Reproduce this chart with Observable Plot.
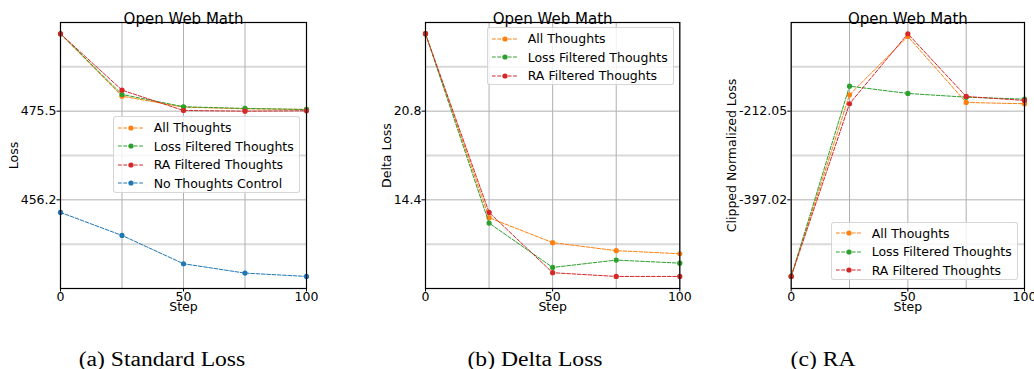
<!DOCTYPE html>
<html>
<head>
<meta charset="utf-8">
<script src="https://cdn.jsdelivr.net/npm/d3@7"></script>
<script src="https://cdn.jsdelivr.net/npm/@observablehq/plot@0.6"></script>
<style>
  html, body { margin: 0; padding: 0; background: #fff; }
  #root { position: relative; width: 1034px; height: 369px; overflow: hidden; font-family: "DejaVu Sans", sans-serif; }
  .panel { position: absolute; top: 0; }
  .panel svg { overflow: visible; }
  .legend { position: absolute; box-sizing: border-box; border: 1px solid rgba(204,204,204,0.8); border-radius: 3px; background: rgba(255,255,255,0.8); font-family: "DejaVu Sans", sans-serif; font-size: 12.5px; color: #000; }
  .legend .row { position: absolute; left: 0; height: 18px; display: flex; align-items: center; white-space: nowrap; }
  .legend .row svg { margin-left: 4px; margin-right: 10px; overflow: visible; }
  .caption { position: absolute; font-family: "Liberation Serif", "Times New Roman", serif; font-size: 20px; line-height: 20px; transform: translateX(-50%) scaleX(1.18); white-space: nowrap; }
</style>
</head>
<body>
<div id="root"></div>
<script>
// ---------- data ----------
const steps = [0, 25, 50, 75, 100];
const seriesNames = ["All Thoughts", "Loss Filtered Thoughts", "RA Filtered Thoughts", "No Thoughts Control"];
const seriesColors = ["#ff7f0e", "#2ca02c", "#d62728", "#1f77b4"];

// (a) Standard Loss
const lossAll   = [492.34, 478.76, 476.37, 476.02, 475.87];
const lossLossF = [492.34, 479.13, 476.46, 476.09, 475.87];
const lossRA    = [492.34, 480.07, 475.65, 475.50, 475.59];
const lossNone  = [453.46, 448.45, 442.29, 440.25, 439.53];
const lossTicks = [456.2, 475.5];
const lossMinorGrid = [446.55, 465.85, 485.15];
const lossDomain = [436.9, 494.8];

// (b) Delta Loss
const deltaAll   = [26.39, 13.11, 11.31, 10.73, 10.51];
const deltaLossF = [26.39, 12.72, 9.52, 10.05, 9.83];
const deltaRA    = [26.39, 13.49, 9.14, 8.87, 8.87];
const deltaTicks = [14.4, 20.8];
const deltaMinorGrid = [11.2, 17.6, 24.0];
const deltaDomain = [8.0, 27.2];

// (c) RA
const raAll   = [-556.8, -177.9, -56.3, -193.9, -196.6];
const raLossF = [-556.8, -159.9, -175.1, -182.9, -187.0];
const raRA    = [-556.8, -196.6, -50.6, -181.4, -189.7];
const raTicks = [-397.02, -212.05];
const raMinorGrid = [-489.505, -304.535, -119.565];
const raDomain = [-581.99, -27.08];

const xTicks = [0, 50, 100];
const xGrid = [0, 25, 50, 75, 100];

const titles = ["Open Web Math", "Open Web Math", "Open Web Math"];
const yLabels = ["Loss", "Delta Loss", "Clipped Normalized Loss"];
const captions = ["(a) Standard Loss", "(b) Delta Loss", "(c) RA"];

// ---------- helpers ----------
function rows(values, name) {
  return steps.map((s, i) => ({step: s, value: values[i], series: name}));
}

const root = document.getElementById("root");

function panel({left, width, marginLeft, marginRight, domain, ticks, minor, series, title, ylabel, ylabelDx, tickFmt}) {
  const marks = [
    Plot.gridY(minor, {stroke: "#d9d9d9", strokeWidth: 2, strokeOpacity: 1}),
    Plot.gridY(ticks, {stroke: "#b0b0b0", strokeWidth: 1, strokeOpacity: 1}),
    Plot.gridX(xGrid, {stroke: "#b0b0b0", strokeWidth: 1, strokeOpacity: 1}),
  ];
  for (const s of series) {
    const data = rows(s.values, s.name);
    marks.push(Plot.line(data, {x: "step", y: "value", stroke: s.color, strokeWidth: 1, strokeDasharray: "3.7,1.6"}));
    marks.push(Plot.dot(data, {x: "step", y: "value", fill: s.color, r: 2.6}));
  }
  marks.push(
    Plot.frame({stroke: "#000", strokeWidth: 1.2}),
    Plot.axisY(ticks, {tickSize: 3.5, tickPadding: 0.5, fontSize: 12.5, label: null, tickFormat: tickFmt, stroke: "#000"}),
    Plot.axisX(xTicks, {tickSize: 3.5, tickPadding: 0, fontSize: 12.5, label: null, tickFormat: d => String(d)}),
    Plot.text([title], {frameAnchor: "top", dy: -9, fontSize: 15, fill: "#000"}),
    Plot.text(["Step"], {frameAnchor: "bottom", dy: 22.5, fontSize: 12.5, fill: "#000"}),
    Plot.text([ylabel], {frameAnchor: "left", dx: ylabelDx, rotate: -90, fontSize: 12.5, fill: "#000", textAnchor: "middle"})
  );
  const svg = Plot.plot({
    width, height: 320,
    marginTop: 22, marginBottom: 32, marginLeft, marginRight,
    x: {domain: [0, 100]},
    y: {domain},
    style: {fontFamily: "DejaVu Sans, sans-serif", fontSize: "12.5px", color: "#000", background: "transparent", overflow: "visible"},
    marks
  });
  const div = document.createElement("div");
  div.className = "panel";
  div.style.left = left + "px";
  div.appendChild(svg);
  root.appendChild(div);
}

function legend(left, top, width, items) {
  const box = document.createElement("div");
  box.className = "legend";
  const rowH = 18.5;
  box.style.left = left + "px";
  box.style.top = top + "px";
  box.style.width = width + "px";
  box.style.height = (21 + (items.length - 1) * rowH) + "px";
  items.forEach((it, i) => {
    const row = document.createElement("div");
    row.className = "row";
    row.style.top = (1.5 + i * rowH) + "px";
    row.innerHTML = `<svg width="26" height="6" viewBox="0 0 26 6"><line x1="0" y1="3" x2="26" y2="3" stroke="${it.color}" stroke-width="1" stroke-dasharray="3.7,1.6"/><circle cx="13" cy="3" r="2.6" fill="${it.color}"/></svg><span>${it.name}</span>`;
    box.appendChild(row);
  });
  root.appendChild(box);
}

// ---------- panels ----------
const three = (a, b, c) => [
  {name: seriesNames[0], color: seriesColors[0], values: a},
  {name: seriesNames[1], color: seriesColors[1], values: b},
  {name: seriesNames[2], color: seriesColors[2], values: c},
];

panel({left: 0, width: 345, marginLeft: 60, marginRight: 39, domain: lossDomain, ticks: lossTicks, minor: lossMinorGrid,
  series: [...three(lossAll, lossLossF, lossRA), {name: seriesNames[3], color: seriesColors[3], values: lossNone}],
  title: titles[0], ylabel: yLabels[0], ylabelDx: -47, tickFmt: d => d.toFixed(1)});

panel({left: 345, width: 345, marginLeft: 80, marginRight: 10.7, domain: deltaDomain, ticks: deltaTicks, minor: deltaMinorGrid,
  series: three(deltaAll, deltaLossF, deltaRA),
  title: titles[1], ylabel: yLabels[1], ylabelDx: -38.5, tickFmt: d => d.toFixed(1)});

panel({left: 690, width: 344, marginLeft: 100.7, marginRight: 10, domain: raDomain, ticks: raTicks, minor: raMinorGrid,
  series: three(raAll, raLossF, raRA),
  title: titles[2], ylabel: yLabels[2], ylabelDx: -59.5, tickFmt: d => d.toFixed(2)});

const leg3 = seriesNames.slice(0, 3).map((n, i) => ({name: n, color: seriesColors[i]}));
legend(112.7, 116, 187, seriesNames.map((n, i) => ({name: n, color: seriesColors[i]})));
legend(486.7, 27.3, 187, leg3);
legend(830.7, 221.7, 187, leg3);

// ---------- captions ----------
const capX = [162, 535, 823];
captions.forEach((c, i) => {
  const d = document.createElement("div");
  d.className = "caption";
  d.style.left = capX[i] + "px";
  d.style.top = "349px";
  d.textContent = c;
  root.appendChild(d);
});
</script>
</body>
</html>
